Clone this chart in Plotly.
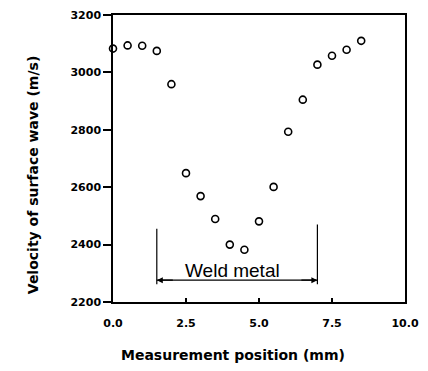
import plotly.graph_objects as go

positions = [0, 0.5, 1, 1.5, 2, 2.5, 3, 3.5, 4, 4.5, 5, 5.5, 6, 6.5, 7, 7.5, 8, 8.5]
velocity = [3083, 3094, 3093, 3075, 2959, 2649, 2569, 2489, 2400, 2382, 2481, 2601,
            2793, 2905, 3027, 3058, 3079, 3110]

x_ticks = [0, 2.5, 5, 7.5, 10]
x_tick_labels = ["0.0", "2.5", "5.0", "7.5", "10.0"]
y_ticks = [2200, 2400, 2600, 2800, 3000, 3200]

weld_start, weld_end = 1.5, 7.0
weld_arrow_y = 2276
weld_left_top, weld_right_top, weld_bottom = 2455, 2470, 2262
weld_label = "Weld metal"
weld_label_x, weld_label_y = 4.1, 2310

W, H = 428, 371
ML, MR, MT, MB = 113, 21, 9, 69

fig = go.Figure()
fig.add_trace(go.Scatter(
    x=positions, y=velocity, mode="markers",
    marker=dict(symbol="circle-open", size=7, color="black", line=dict(width=1.6, color="black")),
    cliponaxis=False, showlegend=False,
))

tickfont = dict(family="DejaVu Sans", size=11, color="black", weight="bold")
titlefont = dict(family="DejaVu Sans", size=14, color="black", weight="bold")

fig.update_xaxes(
    range=[0, 10], tickvals=x_ticks, ticktext=x_tick_labels,
    ticks="inside", ticklen=4, tickwidth=1.5, tickcolor="black",
    showline=True, linecolor="black", linewidth=1.5, mirror=True,
    showgrid=False, zeroline=False, tickfont=tickfont, ticklabelstandoff=10,
)
fig.update_yaxes(
    range=[2200, 3200], tickvals=y_ticks,
    ticks="outside", ticklen=8, tickwidth=1.5, tickcolor="black",
    showline=True, linecolor="black", linewidth=1.5, mirror=True,
    showgrid=False, zeroline=False, tickfont=tickfont,
)

# Weld metal bracket
fig.add_shape(type="line", x0=weld_start, x1=weld_start, y0=weld_bottom, y1=weld_left_top,
              xref="x", yref="y", line=dict(color="black", width=1.2))
fig.add_shape(type="line", x0=weld_end, x1=weld_end, y0=weld_bottom, y1=weld_right_top,
              xref="x", yref="y", line=dict(color="black", width=1.2))
fig.add_shape(type="line", x0=weld_start, x1=weld_end, y0=weld_arrow_y, y1=weld_arrow_y,
              xref="x", yref="y", line=dict(color="black", width=1.2))
for tip, tail in [(weld_start, weld_start + 0.6), (weld_end, weld_end - 0.6)]:
    fig.add_annotation(x=tip, y=weld_arrow_y, ax=tail, ay=weld_arrow_y,
                       xref="x", yref="y", axref="x", ayref="y",
                       text="", showarrow=True, arrowhead=2, arrowsize=1, arrowwidth=1.2,
                       arrowcolor="black")
fig.add_annotation(x=weld_label_x, y=weld_label_y, xref="x", yref="y", text=weld_label,
                   showarrow=False, font=dict(family="Liberation Sans", size=19, color="black"))

plot_w = W - ML - MR
plot_h = H - MT - MB
fig.add_annotation(text="Measurement position (mm)", xref="paper", yref="paper",
                   x=(234 - ML) / plot_w, y=(H - MB - 356) / plot_h,
                   xanchor="center", yanchor="middle", showarrow=False, font=titlefont)
fig.add_annotation(text="Velocity of surface wave (m/s)", xref="paper", yref="paper",
                   x=(32 - ML) / plot_w, y=(H - MB - 173) / plot_h, textangle=-90,
                   xanchor="center", yanchor="middle", showarrow=False, font=titlefont)

fig.update_layout(
    width=W, height=H, margin=dict(l=ML, r=MR, t=MT, b=MB),
    plot_bgcolor="white", paper_bgcolor="white",
)
fig.write_html("out.html")
